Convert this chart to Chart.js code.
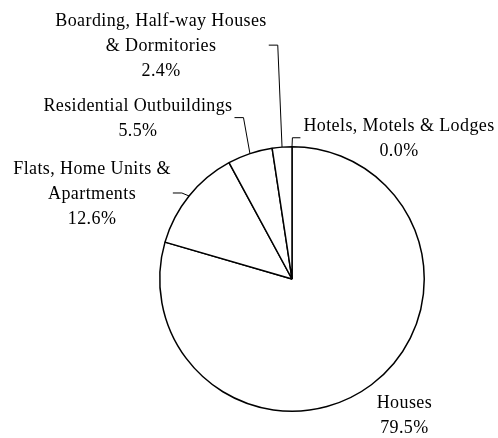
<!DOCTYPE html>
<html>
<head>
<meta charset="utf-8">
<script src="https://cdn.jsdelivr.net/npm/chart.js@4/dist/chart.umd.min.js"></script>
<style>
html,body{margin:0;padding:0;background:#fff;}
canvas{display:block;}
</style>
</head>
<body>
<canvas id="c" width="498" height="438"></canvas>
<script>
// ---- Data ----
const categories = [
  "Hotels, Motels & Lodges",
  "Houses",
  "Flats, Home Units & Apartments",
  "Residential Outbuildings",
  "Boarding, Half-way Houses & Dormitories"
];
const labelLines = [
  ["Hotels, Motels & Lodges"],
  ["Houses"],
  ["Flats, Home Units &", "Apartments"],
  ["Residential Outbuildings"],
  ["Boarding, Half-way Houses", "& Dormitories"]
];
const shares = [0.0, 79.5, 12.6, 5.5, 2.4];

// ---- Label placement (style: offset of label block centre from slice mid-arc point) ----
const labelOffsets = [
  {dx: 107, dy: -8, leader: true},
  {dx: 33, dy: 31, leader: false},
  {dx: -97, dy: -2, leader: true},
  {dx: -112, dy: -35, leader: true},
  {dx: -121, dy: -101, leader: true}
];
const FONT_SIZE = 18;
const LINE_H = 25;
const FONT = FONT_SIZE + 'px "Liberation Serif", "Times New Roman", serif';

const labelPlugin = {
  id: 'pieLabels',
  afterDraw(chart) {
    const ctx = chart.ctx;
    const meta = chart.getDatasetMeta(0);
    ctx.save();
    ctx.font = FONT;
    if ('letterSpacing' in ctx) ctx.letterSpacing = '0.4px';
    ctx.fillStyle = '#000';
    ctx.textAlign = 'center';
    ctx.textBaseline = 'middle';
    meta.data.forEach((arc, i) => {
      const p = arc.getProps(['x','y','startAngle','endAngle','outerRadius'], true);
      const mid = (p.startAngle + p.endAngle) / 2;
      const ax = p.x + Math.cos(mid) * p.outerRadius;
      const ay = p.y + Math.sin(mid) * p.outerRadius;
      const off = labelOffsets[i];
      const cx = ax + off.dx;
      const cy = ay + off.dy;
      const lines = labelLines[i].concat([shares[i].toFixed(1) + '%']);
      const top = cy - (lines.length - 1) * LINE_H / 2;
      let maxW = 0;
      lines.forEach((t, k) => {
        ctx.fillText(t, cx, top + k * LINE_H);
        maxW = Math.max(maxW, ctx.measureText(t).width);
      });
      if (off.leader) {
        const left = cx < ax;
        const edge = left ? cx + maxW / 2 + 2 : cx - maxW / 2 - 3;
        const ey = cy - 1;
        const elbow = left ? edge + 9 : edge - 8;
        ctx.beginPath();
        ctx.strokeStyle = '#000';
        ctx.lineWidth = 1;
        ctx.moveTo(edge, ey);
        ctx.lineTo(elbow, ey);
        ctx.lineTo(ax, ay);
        ctx.stroke();
      }
    });
    ctx.restore();
  }
};

new Chart(document.getElementById('c'), {
  type: 'pie',
  data: {
    labels: categories,
    datasets: [{
      data: shares,
      backgroundColor: '#ffffff',
      borderColor: '#000000',
      borderWidth: 1.5
    }]
  },
  options: {
    responsive: false,
    animation: false,
    layout: { padding: { top: 146, bottom: 26, left: 159, right: 73 } },
    plugins: { legend: { display: false }, tooltip: { enabled: false } }
  },
  plugins: [labelPlugin]
});
</script>
</body>
</html>
